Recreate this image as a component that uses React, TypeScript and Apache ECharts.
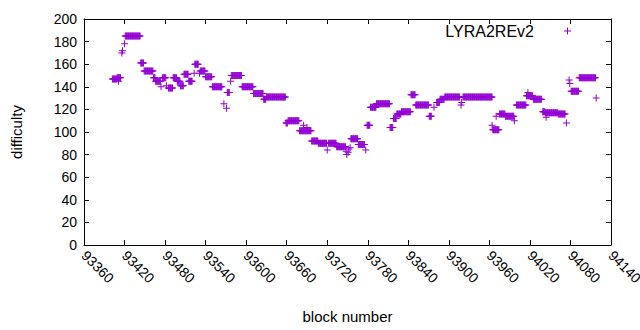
import React, { useEffect, useRef } from "react";
import * as echarts from "echarts";

// Runs of consecutive blocks sharing one difficulty value
const runStart = [93402, 93409, 93421, 93444, 93449, 93463, 93466, 93476, 93485, 93492, 93498, 93503, 93508, 93515, 93524, 93532, 93540, 93550, 93572, 93578, 93594, 93611, 93626, 93630, 93659, 93662, 93679, 93697, 93707, 93722, 93734, 93755, 93766, 93779, 93784, 93793, 93813, 93818, 93823, 93830, 93844, 93851, 93871, 93882, 93887, 93894, 93921, 93965, 93975, 93984, 94000, 94015, 94025, 94039, 94043, 94062, 94081, 94093];
const runEnd = [93408, 93414, 93443, 93448, 93462, 93465, 93473, 93481, 93491, 93497, 93502, 93507, 93514, 93520, 93529, 93539, 93549, 93564, 93575, 93593, 93610, 93625, 93629, 93658, 93661, 93678, 93696, 93706, 93719, 93733, 93747, 93765, 93775, 93783, 93792, 93812, 93817, 93822, 93829, 93843, 93850, 93870, 93874, 93886, 93893, 93916, 93964, 93974, 93983, 93996, 94014, 94024, 94037, 94042, 94061, 94072, 94092, 94117];
const runValue = [147, 148, 185, 161, 154, 148, 145, 148, 139, 148, 145, 141, 151, 145, 160, 154, 149, 140, 135, 150, 140, 134, 129, 131, 108, 110, 101, 92, 90, 90, 87, 94, 89, 106, 122, 125, 104, 112, 116, 118, 133, 124, 114, 126, 129, 131, 131, 102, 116, 114, 124, 132, 129, 118, 117, 116, 136, 148];

// Isolated blocks
const singleBlock = [93411, 93416, 93417, 93420, 93474, 93482, 93518, 93523, 93531, 93567, 93571, 93577, 93685, 93690, 93720, 93748, 93749, 93751, 93752, 93754, 93777, 93878, 93918, 93919, 93964, 93970, 93997, 94017, 94044, 94074, 94078, 94079, 94118];
const singleValue = [145, 170, 172, 178, 140, 141, 145, 152, 152, 125, 121, 145, 106, 104, 84, 83, 80, 82, 85, 86, 84, 122, 124, 126, 106, 114, 110, 135, 113, 108, 146, 143, 130];

const xMin = 93360;
const xMax = 94140;
const xStep = 60;
const yMin = 0;
const yMax = 200;
const yStep = 20;

const seriesName = "LYRA2REv2";
const COLOR = "#9400D3";
const FONT = "Liberation Sans";
const PLUS = "path://M3,0L4,0L4,3L7,3L7,4L4,4L4,7L3,7L3,4L0,4L0,3L3,3Z";

function buildPoints(): number[][] {
  const pts: number[][] = [];
  for (let i = 0; i < runStart.length; i++) {
    for (let b = runStart[i]; b <= runEnd[i]; b++) pts.push([b, runValue[i]]);
  }
  for (let i = 0; i < singleBlock.length; i++) pts.push([singleBlock[i], singleValue[i]]);
  return pts;
}

export default function App() {
  const ref = useRef<HTMLDivElement>(null);
  useEffect(() => {
    if (!ref.current) return;
    const chart = echarts.init(ref.current, undefined, { renderer: "svg" });
    const axisLine = { show: true, onZero: false, lineStyle: { color: "#000", width: 1 } };
    const tick = { show: true, inside: true, length: 5, lineStyle: { color: "#000" } };
    const label = { color: "#000", fontFamily: FONT, fontSize: 14 };
    chart.setOption({
      animation: false,
      backgroundColor: "#fff",
      grid: { left: 84, right: 29, top: 19, bottom: 85, containLabel: false, outerBoundsMode: "none" },
      legend: {
        show: true,
        right: 64,
        top: 18,
        align: "right",
        itemWidth: 7,
        itemHeight: 7,
        icon: PLUS,
        data: [{ name: seriesName, icon: PLUS, itemStyle: { color: COLOR } }],
        textStyle: { color: "#000", fontFamily: FONT, fontSize: 16, padding: [0, 25, 0, 0] },
      },
      xAxis: [
        {
          type: "value",
          min: xMin,
          max: xMax,
          interval: xStep,
          position: "bottom",
          name: "block number",
          nameLocation: "middle",
          nameGap: 64,
          nameTextStyle: { color: "#000", fontFamily: FONT, fontSize: 15 },
          axisLine,
          axisTick: tick,
          splitLine: { show: false },
          axisLabel: { ...label, rotate: -45, margin: 8, formatter: (v: number) => String(v) },
        },
        {
          type: "value",
          min: xMin,
          max: xMax,
          interval: xStep,
          position: "top",
          axisLine,
          axisTick: tick,
          splitLine: { show: false },
          axisLabel: { show: false },
        },
      ],
      yAxis: [
        {
          type: "value",
          min: yMin,
          max: yMax,
          interval: yStep,
          position: "left",
          name: "difficulty",
          nameLocation: "middle",
          nameGap: 60,
          nameRotate: 90,
          nameTextStyle: { color: "#000", fontFamily: FONT, fontSize: 15 },
          axisLine,
          axisTick: tick,
          splitLine: { show: false },
          axisLabel: { ...label, margin: 7 },
        },
        {
          type: "value",
          min: yMin,
          max: yMax,
          interval: yStep,
          position: "right",
          axisLine,
          axisTick: tick,
          splitLine: { show: false },
          axisLabel: { show: false },
        },
      ],
      series: [
        {
          name: seriesName,
          type: "scatter",
          xAxisIndex: 0,
          yAxisIndex: 0,
          symbol: PLUS,
          symbolSize: 7,
          itemStyle: { color: COLOR, opacity: 1 },
          data: buildPoints(),
        },
      ],
    });
    return () => chart.dispose();
  }, []);
  return (
    <div
      ref={ref}
      style={{ position: "fixed", left: 0, top: 0, width: 640, height: 330, background: "#fff" }}
    />
  );
}
